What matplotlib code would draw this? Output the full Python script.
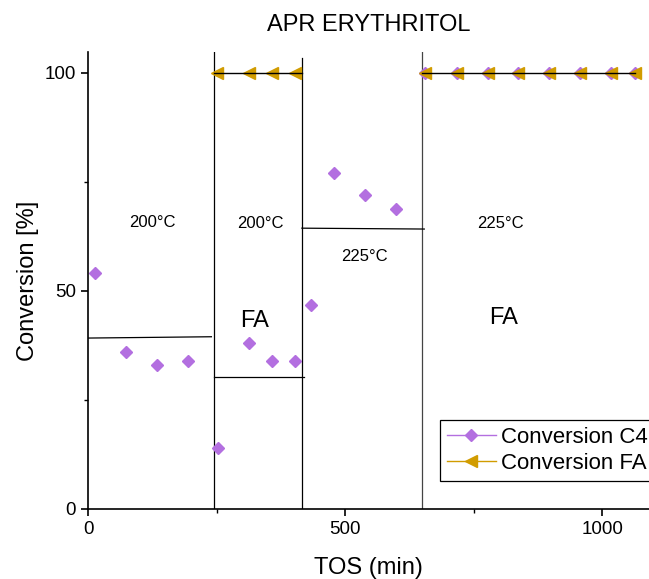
import matplotlib.pyplot as plt
from matplotlib.ticker import MultipleLocator

plt.rcParams['font.family'] = ['Liberation Sans', 'DejaVu Sans']

# C4 conversion (purple diamonds)
c4_tos = [14, 74, 134, 194, 253, 313, 358, 403, 434, 479, 539, 599,
          656, 717, 777, 837, 897, 957, 1017, 1064]
c4_conv = [54.1, 36, 33, 34, 14, 38, 34, 34, 46.8, 77, 72, 68.8,
           100, 100, 100, 100, 100, 100, 100, 100]

# FA conversion (gold triangles)
fa_tos = [250, 313, 358, 403, 656, 717, 777, 837, 897, 957, 1017, 1064]
fa_conv = [100] * len(fa_tos)

# segment boundaries and segment mean lines
boundaries = [245, 416, 650]
means = [(0, 240, 39.2, 39.5), (245, 420, 30.3, 30.3), (416, 654, 64.4, 64.2)]

labels = [(126, 65.6, '200°C'), (335, 65.4, '200°C'),
          (537, 57.8, '225°C'), (803, 65.4, '225°C')]
fa_labels = [(323, 43.0, 'FA'), (809, 43.8, 'FA')]

purple = '#B36FE0'
gold = '#D19C00'

fig = plt.figure(figsize=(6.49, 5.79), dpi=100)
ax = fig.add_axes([0.1356, 0.1209, 0.8644, 0.7893])

ax.plot(c4_tos, c4_conv, linestyle='none', marker='D', ms=6.5, color=purple,
        label='Conversion C4', zorder=3)
ax.plot(fa_tos, fa_conv, linestyle='none', marker='<', ms=8.5, color=gold,
        label='Conversion FA', zorder=4)

# lines at 100 % across FA segments
ax.plot([245, 416], [100, 100], color='black', lw=1, zorder=5)
ax.plot([650, 1064], [100, 100], color='black', lw=1, zorder=5)

ax.axvline(boundaries[0], color='black', lw=0.9, zorder=2)
ax.plot([boundaries[1], boundaries[1]], [0, 103.5], color='black', lw=0.9, zorder=2)
ax.axvline(boundaries[2], color='#444444', lw=0.9, zorder=2)

for x0, x1, y0, y1 in means:
    ax.plot([x0, x1], [y0, y1], color='black', lw=0.9, zorder=2)

for x, y, t in labels:
    ax.text(x, y, t, fontsize=12, ha='center', va='center')
for x, y, t in fa_labels:
    ax.text(x, y, t, fontsize=17, ha='center', va='center')

ax.set_xlim(0, 1091)
ax.set_ylim(0, 104.8)
ax.xaxis.set_major_locator(MultipleLocator(500))
ax.xaxis.set_minor_locator(MultipleLocator(250))
ax.yaxis.set_major_locator(MultipleLocator(50))
ax.yaxis.set_minor_locator(MultipleLocator(25))
ax.tick_params(which='major', direction='out', length=5, width=1.2, labelsize=13.5)
ax.tick_params(which='minor', direction='out', length=3, width=1)
ax.spines['top'].set_visible(False)
ax.spines['right'].set_visible(False)
ax.spines['left'].set_linewidth(1.2)
ax.spines['bottom'].set_linewidth(1.2)

ax.set_xlabel('TOS (min)', fontsize=17, labelpad=14)
ax.set_ylabel('Conversion [%]', fontsize=17, labelpad=4)
ax.set_title('APR ERYTHRITOL', fontsize=17, pad=15)

# legend with lines in series colours
h1, = ax.plot([], [], color=purple, lw=1, marker='D', ms=6.5, label='Conversion C4')
h2, = ax.plot([], [], color=gold, lw=1, marker='<', ms=8.5, label='Conversion FA')
leg = ax.legend(handles=[h1, h2], loc='upper left', bbox_to_anchor=(0.628, 0.1947),
                fontsize=16, frameon=True, fancybox=False, framealpha=1,
                edgecolor='black', handlelength=2.2, handletextpad=0.25,
                borderpad=0.3, labelspacing=0.25, borderaxespad=0)
leg.get_frame().set_linewidth(0.9)

fig.savefig('out.png', dpi=100)
